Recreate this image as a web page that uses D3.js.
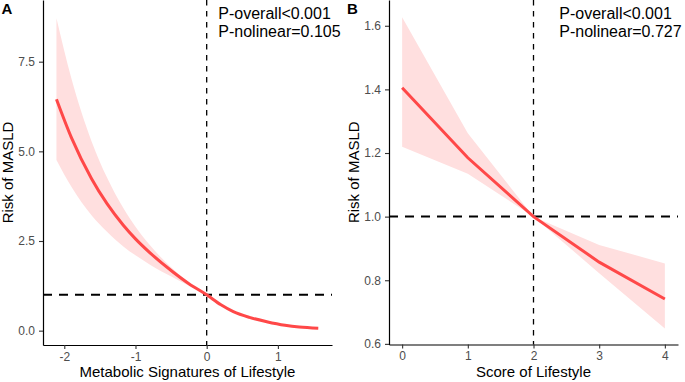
<!DOCTYPE html>
<html>
<head>
<meta charset="utf-8">
<script src="https://cdn.jsdelivr.net/npm/d3@7"></script>
<style>
  body { margin: 0; background: #fff; }
  text { font-family: 'Liberation Sans', Arial, sans-serif; }
</style>
</head>
<body>
<div class="canvas"></div>
<script>
const width = 685;
const height = 382;

// Panel A: metabolic signatures of lifestyle
const msX = [-2.11, -1.9, -1.615, -1.4, -1.171, -1.0, -0.796, -0.469, -0.25, 0, 0.2, 0.374, 0.6, 0.843, 1.1, 1.3, 1.567];
const msRR = [6.45, 5.38, 4.23, 3.54, 2.94, 2.56, 2.17, 1.63, 1.31, 1.0, 0.72, 0.53, 0.37, 0.25, 0.15, 0.1, 0.067];
const msUpper = [8.71, 7.03, 5.27, 4.27, 3.42, 2.9, 2.38, 1.71, 1.34, 1.0, 0.74, 0.555, 0.395, 0.275, 0.172, 0.122, 0.09];
const msLower = [4.76, 4.01, 3.21, 2.76, 2.35, 2.1, 1.84, 1.48, 1.25, 1.0, 0.7, 0.505, 0.345, 0.228, 0.133, 0.085, 0.052];
const msXTicks = [-2, -1, 0, 1];
const msYTicks = [0, 2.5, 5, 7.5];

// Panel B: score of lifestyle
const scoreX = [0, 1, 2, 3, 4];
const scoreRR = [1.405, 1.185, 1.0, 0.857, 0.741];
const scoreUpper = [1.627, 1.262, 1.0, 0.911, 0.853];
const scoreLower = [1.22, 1.135, 1.0, 0.822, 0.648];
const scoreXTicks = [0, 1, 2, 3, 4];
const scoreYTicks = [0.6, 0.8, 1.0, 1.2, 1.4, 1.6];

const canvas = d3
  .select('.canvas')
  .append('svg')
  .attr('width', width)
  .attr('height', height);

function drawPanel(p) {
  const xScale = d3.scaleLinear().domain(p.xDomain).range([p.left, p.right]);
  const yScale = d3.scaleLinear().domain(p.yDomain).range([p.bottom, p.top]);

  const data = p.x.map((x, i) => ({ x, rr: p.rr[i], lo: p.lower[i], hi: p.upper[i] }));

  // Confidence band
  canvas
    .append('path')
    .datum(data)
    .attr('fill', '#ffdfdf')
    .attr('d', d3.area()
      .curve(p.curve)
      .x((d) => xScale(d.x))
      .y0((d) => yScale(d.lo))
      .y1((d) => yScale(d.hi)));

  // Reference lines
  canvas
    .append('line')
    .attr('x1', p.left)
    .attr('x2', p.right)
    .attr('y1', yScale(1))
    .attr('y2', yScale(1))
    .style('stroke', 'black')
    .style('stroke-width', '2px')
    .style('stroke-dasharray', '9,7');

  canvas
    .append('line')
    .attr('x1', xScale(p.refX))
    .attr('x2', xScale(p.refX))
    .attr('y1', p.top)
    .attr('y2', p.bottom)
    .style('stroke', 'black')
    .style('stroke-width', '1.3px')
    .style('stroke-dasharray', '5.5,5.5');

  // Fitted curve
  canvas
    .append('path')
    .datum(data)
    .attr('fill', 'none')
    .attr('stroke', '#ff4848')
    .attr('stroke-width', 3)
    .attr('d', d3.line()
      .curve(p.curve)
      .x((d) => xScale(d.x))
      .y((d) => yScale(d.rr)));

  // Axes
  const xAxis = d3.axisBottom(xScale)
    .tickValues(p.xTicks)
    .tickFormat((d) => String(d))
    .tickSizeInner(4)
    .tickSizeOuter(0)
    .tickPadding(3);

  const yAxis = d3.axisLeft(yScale)
    .tickValues(p.yTicks)
    .tickFormat(d3.format('.1f'))
    .tickSizeInner(4)
    .tickSizeOuter(0)
    .tickPadding(4);

  const gx = canvas
    .append('g')
    .attr('transform', `translate(0,${p.bottom})`)
    .call(xAxis);

  const gy = canvas
    .append('g')
    .attr('transform', `translate(${p.left},0)`)
    .call(yAxis);

  [gx, gy].forEach((g) => {
    g.select('path.domain').attr('stroke', 'black').attr('stroke-width', 1.2);
    g.selectAll('.tick line').attr('stroke', '#333').attr('stroke-width', 1.1);
    g.selectAll('.tick text')
      .attr('fill', '#4d4d4d')
      .style('font-size', '12px')
      .style('font-family', "'Liberation Sans', Arial, sans-serif");
  });

  // Titles
  canvas
    .append('text')
    .attr('x', (p.left + p.right) / 2)
    .attr('y', 377)
    .attr('text-anchor', 'middle')
    .style('font-size', '15px')
    .text(p.xTitle);

  canvas
    .append('text')
    .attr('transform', `translate(${p.yTitleX},${(p.top + p.bottom) / 2}) rotate(-90)`)
    .attr('text-anchor', 'middle')
    .style('font-size', '15px')
    .text('Risk of MASLD');

  canvas
    .append('text')
    .attr('x', p.tagX)
    .attr('y', 14)
    .style('font-size', '15px')
    .style('font-weight', 'bold')
    .text(p.tag);

  p.notes.forEach((note, i) => {
    canvas
      .append('text')
      .attr('x', p.noteX)
      .attr('y', 18.5 + i * 18.4)
      .style('font-size', '16px')
      .text(note);
  });
}

drawPanel({
  tag: 'A',
  tagX: 1.5,
  left: 43,
  right: 332,
  top: 0,
  bottom: 345,
  xDomain: [-2.299, 1.76],
  yDomain: [-0.4, 9.22],
  x: msX,
  rr: msRR,
  upper: msUpper,
  lower: msLower,
  xTicks: msXTicks,
  yTicks: msYTicks,
  refX: 0,
  curve: d3.curveMonotoneX,
  xTitle: 'Metabolic Signatures of Lifestyle',
  yTitleX: 13.3,
  noteX: 218.3,
  notes: ['P-overall<0.001', 'P-nolinear=0.105']
});

drawPanel({
  tag: 'B',
  tagX: 347,
  left: 389,
  right: 678,
  top: 0,
  bottom: 344.5,
  xDomain: [-0.2, 4.2],
  yDomain: [0.598, 1.681],
  x: scoreX,
  rr: scoreRR,
  upper: scoreUpper,
  lower: scoreLower,
  xTicks: scoreXTicks,
  yTicks: scoreYTicks,
  refX: 2,
  curve: d3.curveLinear,
  xTitle: 'Score of Lifestyle',
  yTitleX: 358.5,
  noteX: 559.3,
  notes: ['P-overall<0.001', 'P-nolinear=0.727']
});
</script>
</body>
</html>
